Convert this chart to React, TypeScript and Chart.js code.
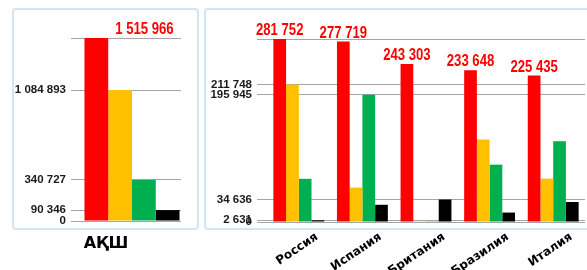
import React, { useEffect, useRef } from 'react';
import { Chart, registerables } from 'chart.js';

Chart.register(...registerables);

// ---- Data ----
const usaCategories = ['АҚШ'];
const usaTotal = [1515966];
const usaActive = [1084893];
const usaRecovered = [340727];
const usaDeaths = [90346];
const usaTicks = [0, 90346, 340727, 1084893, 1515966];

const countries = ['Россия', 'Испания', 'Британия', 'Бразилия', 'Италия'];
const totalCases = [281752, 277719, 243303, 233648, 225435];
const activeCases = [211748, 53000, 1200, 127000, 66700];
const recoveredCases = [66500, 195945, 1200, 88300, 124500];
const deathCases = [2631, 26500, 34636, 14500, 30800];
const countryTicks = [0, 2631, 34636, 195945, 211748, 281752];

const COLORS = ['#ff0000', '#ffc000', '#00b050', '#000000'];
const GRID = '#a6a6a6';

const fmt = (n: number) => String(n).replace(/\B(?=(\d{3})+(?!\d))/g, ' ');

function makeDatasets(series: number[][], catPct: number) {
  return series.map((data, i) => ({
    data,
    backgroundColor: COLORS[i],
    borderWidth: 0,
    categoryPercentage: catPct,
    barPercentage: 1,
  }));
}

function totalLabelPlugin(values: number[], side: boolean) {
  return {
    id: 'totalLabels',
    afterDatasetsDraw(chart: any) {
      const meta = chart.getDatasetMeta(0);
      const ctx = chart.ctx;
      ctx.save();
      ctx.fillStyle = '#ff0000';
      ctx.font = 'bold 16px "Liberation Sans", Arial, sans-serif';
      ctx.textBaseline = 'alphabetic';
      meta.data.forEach((bar: any, i: number) => {
        const text = fmt(values[i]);
        ctx.save();
        if (side) {
          ctx.translate(bar.x + bar.width / 2 + 7, bar.y - 4);
          ctx.scale(0.82, 1);
          ctx.textAlign = 'left';
        } else {
          ctx.translate(bar.x, bar.y - 4);
          ctx.scale(0.82, 1);
          ctx.textAlign = 'center';
        }
        ctx.fillText(text, 0, 0);
        ctx.restore();
      });
      ctx.restore();
    },
  };
}

function buildOptions(cfg: {
  ticks: number[];
  max: number;
  yWidth: number;
  tickLen: number;
  padRight: number;
  padTop: number;
  xHeight: number;
  xFont: any;
  rotation: number;
  labelOffset: number;
  xPadding: number;
}) {
  return {
    responsive: false,
    animation: false as const,
    layout: { padding: { top: cfg.padTop, right: cfg.padRight, left: 0, bottom: 0 } },
    plugins: { legend: { display: false }, tooltip: { enabled: false } },
    scales: {
      x: {
        grid: { display: false, drawTicks: false },
        border: { display: false },
        ticks: {
          color: '#000000',
          font: cfg.xFont,
          minRotation: cfg.rotation,
          maxRotation: cfg.rotation,
          labelOffset: cfg.labelOffset,
          padding: cfg.xPadding,
          autoSkip: false,
        },
        afterFit: (s: any) => {
          s.height = cfg.xHeight;
        },
      },
      y: {
        min: 0,
        max: cfg.max,
        grid: { color: GRID, lineWidth: 1, tickLength: cfg.tickLen, tickColor: GRID, drawTicks: true },
        border: { display: false },
        afterBuildTicks: (s: any) => {
          s.ticks = cfg.ticks.map((v) => ({ value: v }));
        },
        afterFit: (s: any) => {
          s.width = cfg.yWidth;
        },
        ticks: {
          color: '#1a1a1a',
          padding: 5,
          font: { family: '"Liberation Sans", Arial, sans-serif', weight: 'bold', size: 11.5 },
          callback: (v: any) => (Number(v) === cfg.max ? '' : fmt(Number(v))),
        },
      },
    },
  };
}

export default function App() {
  const leftRef = useRef<HTMLCanvasElement>(null);
  const rightRef = useRef<HTMLCanvasElement>(null);

  useEffect(() => {
    const left = new Chart(leftRef.current as HTMLCanvasElement, {
      type: 'bar',
      data: {
        labels: usaCategories,
        datasets: makeDatasets([usaTotal, usaActive, usaRecovered, usaDeaths], 0.97) as any,
      },
      options: buildOptions({
        ticks: usaTicks,
        max: usaTotal[0],
        yWidth: 83,
        tickLen: 12,
        padRight: 19,
        padTop: 38,
        xHeight: 49,
        xFont: { family: '"DejaVu Sans", sans-serif', weight: 'bold', size: 16 },
        rotation: 0,
        labelOffset: -26,
        xPadding: 13,
      }) as any,
      plugins: [totalLabelPlugin(usaTotal, true)],
    });

    const right = new Chart(rightRef.current as HTMLCanvasElement, {
      type: 'bar',
      data: {
        labels: countries,
        datasets: makeDatasets([totalCases, activeCases, recoveredCases, deathCases], 0.8) as any,
      },
      options: buildOptions({
        ticks: countryTicks,
        max: Math.max(...totalCases),
        yWidth: 67,
        tickLen: 10,
        padRight: 2,
        padTop: 39,
        xHeight: 48,
        xFont: { family: '"DejaVu Sans", sans-serif', weight: 'bold', size: 12 },
        rotation: 34,
        labelOffset: 18,
        xPadding: 8,
      }) as any,
      plugins: [totalLabelPlugin(totalCases, false)],
    });

    return () => {
      left.destroy();
      right.destroy();
    };
  }, []);

  const panel: React.CSSProperties = {
    position: 'absolute',
    boxSizing: 'border-box',
    border: '2px solid #d3e4f3',
    borderRadius: 4,
    top: 8,
    height: 222,
  };

  return (
    <div
      style={{
        position: 'fixed',
        left: 0,
        top: 0,
        width: 587,
        height: 270,
        overflow: 'hidden',
        background: '#ffffff',
      }}
    >
      <div style={{ ...panel, left: 12, width: 187 }} />
      <div style={{ ...panel, left: 204, width: 390 }} />
      <canvas
        ref={leftRef}
        width={200}
        height={270}
        style={{ position: 'absolute', left: 0, top: 0, width: 200, height: 270 }}
      />
      <canvas
        ref={rightRef}
        width={387}
        height={270}
        style={{ position: 'absolute', left: 200, top: 0, width: 387, height: 270 }}
      />
    </div>
  );
}
